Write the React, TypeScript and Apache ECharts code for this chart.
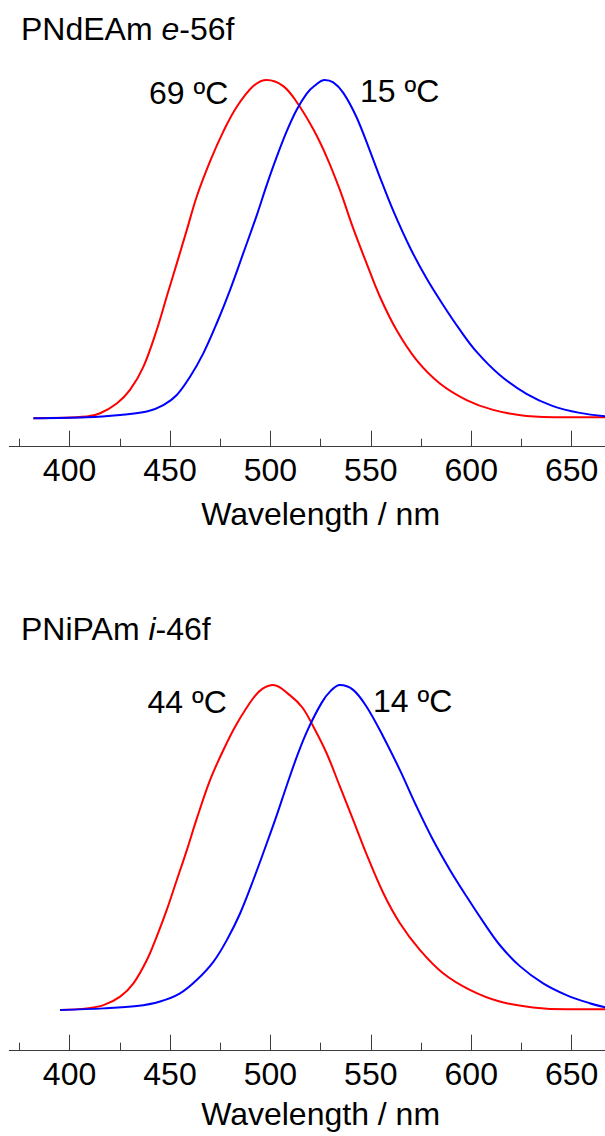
import React, { useEffect, useRef } from "react";
import * as echarts from "echarts";

// Wavelength range of the (cropped) x axis
const X_MIN = 370;
const X_MAX = 680;
const MAJOR_TICKS = [400, 450, 500, 550, 600, 650];
const MINOR_TICKS = [375, 425, 475, 525, 575, 625, 675];

// Top panel: PNdEAm e-56f (normalized emission intensity)
const topRed69C: [number, number][] = [
  [382, 0], [408.6, 0.005], [415.2, 0.015], [423.5, 0.044], [430.1, 0.084],
  [436.8, 0.153], [443.4, 0.261], [448.4, 0.36], [453.4, 0.458], [458.4, 0.557],
  [463.3, 0.655], [470, 0.76], [476.6, 0.848], [483.2, 0.92], [491.5, 0.982],
  [498.2, 1.0], [506.4, 0.982], [513.1, 0.935], [521.3, 0.855], [528, 0.773],
  [534.6, 0.675], [541.2, 0.562], [547.9, 0.458], [554.5, 0.36], [562.8, 0.261],
  [572.8, 0.172], [584.4, 0.103], [597.7, 0.054], [610.9, 0.025], [627.5, 0.007],
  [647.4, 0.003], [667, 0.003],
];
const topBlue15C: [number, number][] = [
  [382, 0], [408.6, 0.003], [425.2, 0.01], [438.5, 0.02], [446.7, 0.039],
  [453.4, 0.069], [460, 0.123], [466.6, 0.192], [473.3, 0.281], [479.9, 0.379],
  [486.5, 0.488], [493.2, 0.6], [498.2, 0.69], [503.1, 0.772], [508.1, 0.848],
  [513.1, 0.912], [518.1, 0.96], [522, 0.983], [527, 1.0], [531.3, 0.993],
  [536.3, 0.962], [542.9, 0.89], [549.6, 0.79], [554.5, 0.713], [561.2, 0.613],
  [569.5, 0.505], [577.8, 0.413], [586, 0.335], [594.3, 0.262], [602.6, 0.197],
  [614.2, 0.128], [627.5, 0.072], [640.7, 0.036], [654, 0.016], [667, 0.006],
];

// Bottom panel: PNiPAm i-46f
const botRed44C: [number, number][] = [
  [395.3, 0], [408.6, 0.005], [416.9, 0.015], [425.2, 0.041], [431.8, 0.082],
  [438.5, 0.154], [443.4, 0.226], [448.4, 0.308], [453.4, 0.4], [458.4, 0.492],
  [463.3, 0.588], [470, 0.708], [476.6, 0.8], [483.2, 0.88], [491.5, 0.96],
  [496, 0.988], [501.4, 1.0], [509.8, 0.968], [516, 0.93], [521.3, 0.873],
  [528, 0.79], [534.6, 0.688], [541.2, 0.585], [547.9, 0.479], [556.2, 0.36],
  [564.5, 0.267], [574.4, 0.185], [586, 0.113], [599.3, 0.062], [614.2, 0.026],
  [630.8, 0.008], [647.4, 0.002], [667, 0.002],
];
const botBlue14C: [number, number][] = [
  [395.3, 0], [416.9, 0.005], [433.5, 0.012], [445.1, 0.026], [455, 0.051],
  [463.3, 0.092], [471.6, 0.148], [478.3, 0.215], [484.9, 0.297], [491.5, 0.4],
  [498.2, 0.513], [503.1, 0.598], [508.1, 0.69], [513.5, 0.785], [518.8, 0.865],
  [525.5, 0.945], [530, 0.982], [534.6, 1.0], [541.2, 0.985], [547.9, 0.933],
  [556.2, 0.841], [564.5, 0.738], [572.8, 0.626], [581, 0.523], [589.4, 0.431],
  [597.7, 0.349], [605.9, 0.272], [614.2, 0.2], [624.2, 0.135], [635.8, 0.082],
  [647.4, 0.046], [659, 0.021], [667, 0.008],
];

const TITLES = ["PNdEAm", "PNiPAm"];
const TITLE_ITALIC = ["e", "i"];
const TITLE_SUFFIX = ["-56f", "-46f"];
const TEMP_LABELS = [["69 ºC", "15 ºC"], ["44 ºC", "14 ºC"]];
const AXIS_NAME = "Wavelength / nm";

const FONT = "'Liberation Sans', Arial, Helvetica, sans-serif";
const AXIS_COLOR = "#3c3c3c";

export default function App() {
  const ref = useRef<HTMLDivElement>(null);

  useEffect(() => {
    if (!ref.current) return;
    const chart = echarts.init(ref.current, undefined, { renderer: "svg" });

    const gridDefs = [
      { top: 80, height: 338.3, offset: 28.4, nameGap: 51 },
      { top: 685, height: 325, offset: 40.7, nameGap: 47 },
    ];

    const xAxes: any[] = [];
    gridDefs.forEach((g, i) => {
      xAxes.push({
        type: "value",
        gridIndex: i,
        min: X_MIN,
        max: X_MAX,
        position: "bottom",
        offset: g.offset,
        axisLine: { show: true, onZero: false, lineStyle: { color: AXIS_COLOR, width: 1 } },
        axisTick: {
          show: true,
          inside: true,
          length: 16,
          customValues: MAJOR_TICKS,
          lineStyle: { color: AXIS_COLOR, width: 1 },
        },
        axisLabel: {
          show: true,
          customValues: MAJOR_TICKS,
          margin: 7,
          fontSize: 32,
          fontFamily: FONT,
          color: "#000",
        },
        splitLine: { show: false },
        name: AXIS_NAME,
        nameLocation: "middle",
        nameGap: g.nameGap,
        nameTextStyle: { fontSize: 32, fontFamily: FONT, color: "#000" },
      });
      xAxes.push({
        type: "value",
        gridIndex: i,
        min: X_MIN,
        max: X_MAX,
        position: "bottom",
        offset: g.offset,
        axisLine: { show: false, onZero: false },
        axisTick: {
          show: true,
          inside: true,
          length: 8,
          customValues: MINOR_TICKS,
          lineStyle: { color: AXIS_COLOR, width: 1 },
        },
        axisLabel: { show: false },
        splitLine: { show: false },
      });
    });

    const yAxes = gridDefs.map((_, i) => ({
      type: "value",
      gridIndex: i,
      min: 0,
      max: 1,
      show: false,
      splitLine: { show: false },
    }));

    const mkSeries = (data: [number, number][], color: string, gi: number) => ({
      type: "line",
      xAxisIndex: gi * 2,
      yAxisIndex: gi,
      data,
      showSymbol: false,
      smooth: 0.35,
      clip: false,
      lineStyle: { color, width: 2 },
      silent: true,
    });

    const textEl = (text: string, x: number, y: number, rich?: any) => ({
      type: "text",
      x,
      y,
      silent: true,
      style: {
        text,
        fill: "#000",
        fontSize: 32,
        fontFamily: FONT,
        align: "left",
        verticalAlign: "middle",
        rich,
      },
    });

    const rich = {
      n: { fontSize: 32, fontFamily: FONT, color: "#000" },
      it: { fontSize: 32, fontFamily: FONT, color: "#000", fontStyle: "italic" },
    };

    chart.setOption({
      animation: false,
      backgroundColor: "#fff",
      grid: gridDefs.map((g) => ({
        left: 9.3,
        right: -26.9,
        top: g.top,
        height: g.height,
        containLabel: false,
        outerBoundsMode: "none",
      })),
      xAxis: xAxes,
      yAxis: yAxes,
      series: [
        mkSeries(topRed69C, "#ff0000", 0),
        mkSeries(topBlue15C, "#0000ff", 0),
        mkSeries(botRed44C, "#ff0000", 1),
        mkSeries(botBlue14C, "#0000ff", 1),
      ],
      graphic: [
        textEl(`{n|${TITLES[0]} }{it|${TITLE_ITALIC[0]}}{n|${TITLE_SUFFIX[0]}}`, 21, 29.2, rich),
        textEl(`{n|${TITLES[1]} }{it|${TITLE_ITALIC[1]}}{n|${TITLE_SUFFIX[1]}}`, 21, 629.2, rich),
        textEl(TEMP_LABELS[0][0], 149, 92.5),
        textEl(TEMP_LABELS[0][1], 360, 90.8),
        textEl(TEMP_LABELS[1][0], 147.5, 701.5),
        textEl(TEMP_LABELS[1][1], 373, 700.5),
      ],
    });

    return () => chart.dispose();
  }, []);

  return (
    <div
      ref={ref}
      style={{ position: "absolute", left: 0, top: 0, width: 605, height: 1136 }}
    />
  );
}
